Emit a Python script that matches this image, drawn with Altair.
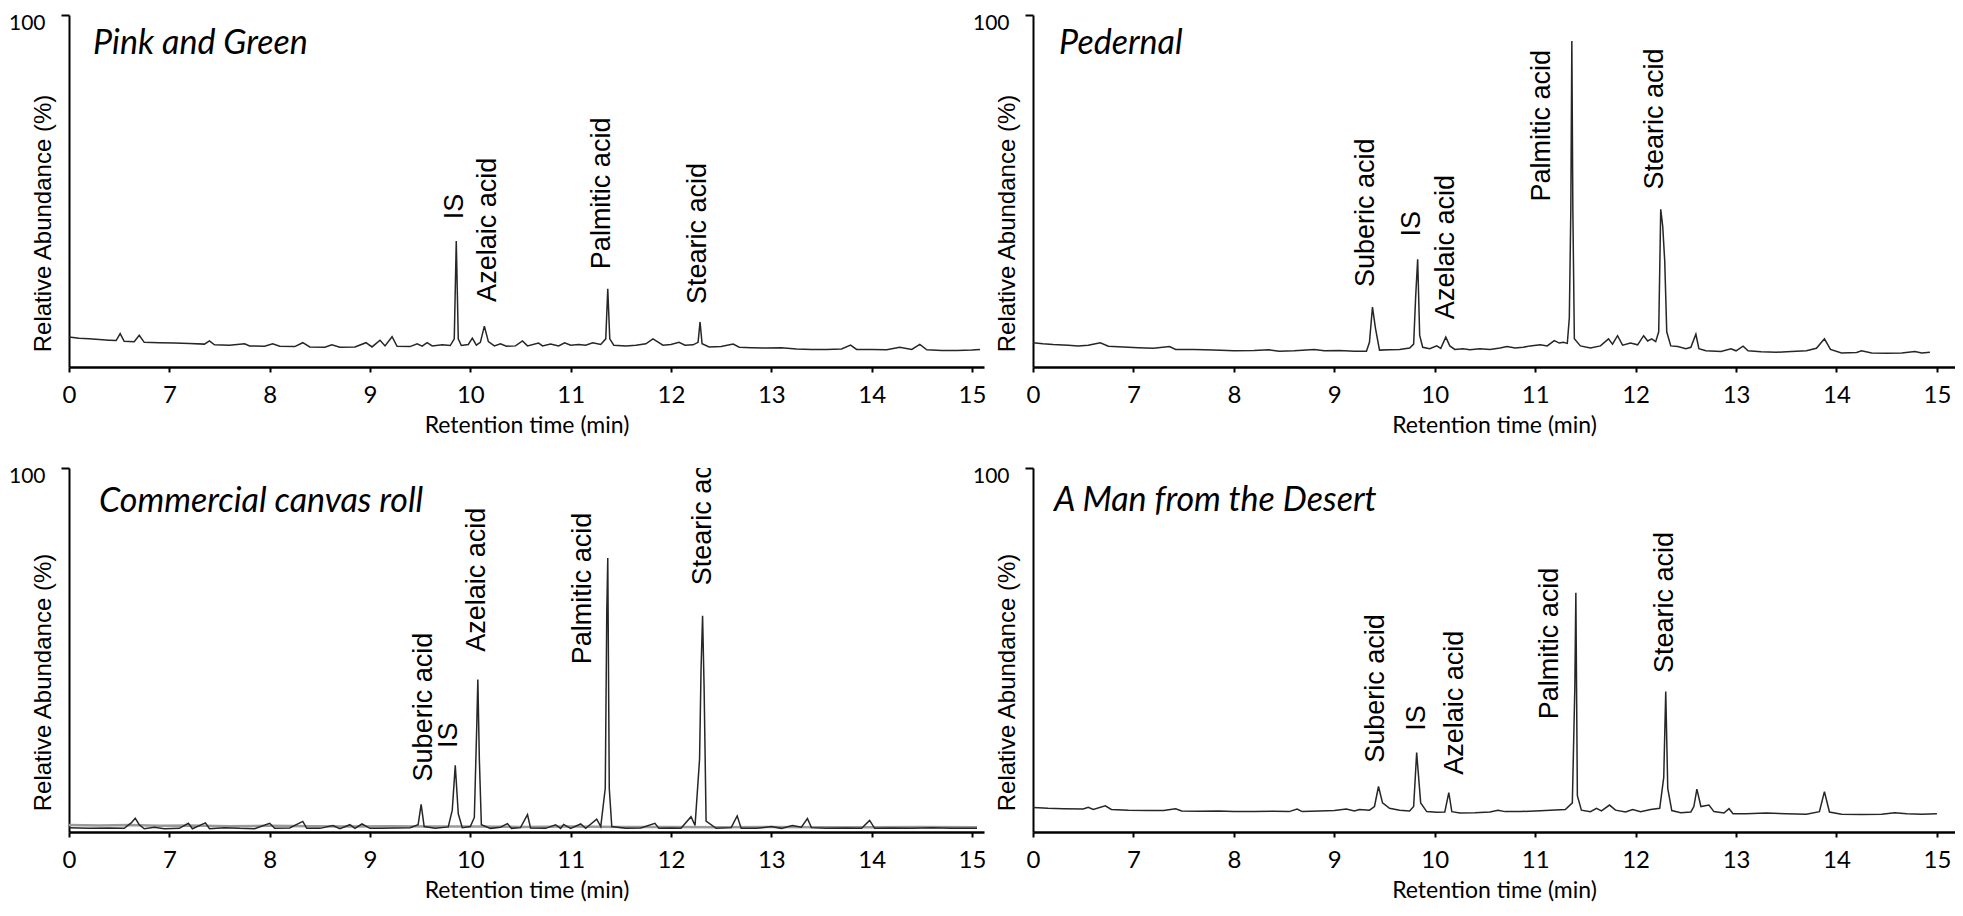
import altair as alt
import pandas as pd

# ---------------- Pink and Green (top-left) ----------------
tl_time = [6.00,6.10,6.20,6.30,6.40,6.47,6.51,6.55,6.65,6.70,6.75,6.90,7.05,7.20,7.35,7.40,7.45,7.60,7.75,7.80,
           7.95,8.03,8.10,8.25,8.33,8.40,8.55,8.62,8.70,8.85,8.96,9.02,9.10,9.15,9.22,9.27,9.40,9.47,9.52,9.57,
           9.62,9.72,9.80,9.84,9.86,9.88,9.91,9.98,10.02,10.06,10.10,10.14,10.18,10.24,10.30,10.36,10.45,10.52,10.57,10.68,
           10.72,10.80,10.88,10.94,11.00,11.08,11.15,11.22,11.30,11.35,11.37,11.39,11.43,11.55,11.65,11.75,11.82,11.86,11.92,12.00,
           12.08,12.14,12.22,12.27,12.29,12.31,12.38,12.50,12.62,12.68,12.80,12.95,13.10,13.25,13.40,13.55,13.70,13.79,13.85,14.00,
           14.15,14.28,14.40,14.48,14.55,14.70,14.85,15.00,15.08]
tl_abund = [8.5,8.2,8.0,7.8,7.6,7.5,9.5,7.3,7.2,9.0,7.0,6.9,6.8,6.7,6.5,7.4,6.3,6.2,6.6,6.0,
            5.9,6.6,5.9,5.8,6.9,5.7,5.6,6.3,5.6,5.7,6.9,5.7,7.6,6.0,8.6,5.9,5.8,6.6,5.9,6.9,
            6.0,6.3,6.1,8.0,35.8,8.0,6.1,6.4,8.2,6.2,7.0,11.6,7.2,6.0,6.6,5.9,6.0,7.4,6.0,6.8,
            6.0,6.5,6.0,6.9,6.2,6.4,6.2,6.9,6.4,8.0,22.2,8.0,6.2,6.0,6.2,6.6,8.0,7.3,6.2,6.4,
            7.0,6.2,6.3,7.0,12.8,6.6,5.7,5.8,6.5,5.6,5.5,5.4,5.5,5.1,5.0,5.0,5.1,6.2,5.0,5.0,
            4.9,5.6,5.0,6.4,4.9,4.7,4.7,4.8,5.0]
tl_labels = ["IS", "Azelaic acid", "Palmitic acid", "Stearic acid"]
tl_label_time = [9.85, 10.18, 11.31, 12.27]
tl_label_abund = [42.0, 18.5, 27.8, 17.9]

# ---------------- Pedernal (top-right) ----------------
tr_time = [6.00,6.10,6.20,6.35,6.45,6.55,6.67,6.75,6.90,7.05,7.20,7.36,7.42,7.60,7.80,8.00,8.20,8.35,8.45,8.60,
           8.80,8.90,9.05,9.20,9.32,9.35,9.38,9.41,9.45,9.55,9.65,9.75,9.79,9.81,9.83,9.85,9.88,9.95,10.02,10.06,
           10.11,10.15,10.20,10.28,10.35,10.45,10.55,10.65,10.72,10.80,10.88,10.95,11.05,11.12,11.19,11.24,11.28,11.32,11.34,11.355,
           11.365,11.375,11.39,11.45,11.55,11.65,11.73,11.77,11.82,11.87,11.95,12.02,12.08,12.12,12.16,12.20,12.23,12.25,12.27,12.29,
           12.31,12.35,12.42,12.50,12.55,12.60,12.63,12.70,12.85,12.95,13.00,13.07,13.12,13.25,13.40,13.55,13.70,13.80,13.88,13.94,
           14.05,14.20,14.25,14.35,14.50,14.65,14.78,14.85,14.93]
tr_abund = [6.9,6.6,6.4,6.2,6.0,6.2,6.9,5.9,5.7,5.5,5.3,5.8,5.0,5.0,4.8,4.6,4.7,4.9,4.5,4.6,
            5.0,4.6,4.7,4.5,4.5,7.0,17.0,11.0,4.8,4.9,5.0,5.4,6.5,20.0,30.6,9.0,5.6,5.2,6.0,5.3,
            8.5,6.0,5.0,5.2,4.9,5.2,5.0,5.4,5.8,5.4,5.6,6.0,6.3,6.0,7.5,6.8,7.0,6.7,14.0,45.0,
            92.6,45.0,8.0,6.0,5.4,6.0,8.0,6.5,8.9,6.2,6.8,6.3,8.9,7.4,8.0,7.2,10.0,44.8,40.0,30.0,
            10.0,6.0,5.8,5.2,5.6,9.3,5.2,4.6,4.4,5.2,4.6,5.9,4.6,4.3,4.2,4.4,4.6,5.3,8.0,5.0,
            4.0,4.1,4.6,4.0,3.9,4.0,4.4,4.0,4.2]
tr_labels = ["Suberic acid", "IS", "Azelaic acid", "Palmitic acid", "Stearic acid"]
tr_label_time = [9.32, 9.77, 10.11, 11.07, 12.19]
tr_label_abund = [22.7, 37.1, 13.6, 47.0, 50.4]

# ---------------- Commercial canvas roll (bottom-left) ----------------
bl_time = [6.00,6.20,6.40,6.55,6.62,6.66,6.70,6.75,6.85,6.95,7.10,7.19,7.23,7.36,7.40,7.55,7.70,7.85,8.00,8.05,
           8.20,8.33,8.37,8.50,8.63,8.70,8.80,8.85,8.92,9.00,9.10,9.25,9.40,9.48,9.51,9.54,9.65,9.78,9.82,9.85,
           9.88,9.92,10.00,10.04,10.065,10.075,10.09,10.11,10.20,10.30,10.37,10.41,10.50,10.57,10.60,10.75,10.85,10.90,10.93,11.00,
           11.10,11.15,11.26,11.30,11.345,11.36,11.37,11.385,11.41,11.55,11.70,11.84,11.88,12.00,12.10,12.20,12.24,12.285,12.30,12.315,
           12.33,12.35,12.45,12.60,12.66,12.70,12.85,13.00,13.10,13.21,13.30,13.36,13.40,13.55,13.75,13.90,13.98,14.03,14.20,14.40,
           14.60,14.80,15.05]
bl_abund = [1.2,1.0,1.1,1.0,2.5,3.8,2.0,0.9,1.3,0.9,1.0,2.4,0.9,2.5,0.9,1.2,1.0,0.9,2.4,1.0,
            1.1,2.9,1.0,1.0,1.8,0.9,2.0,1.0,2.2,1.0,1.0,1.1,1.2,2.0,7.6,1.5,1.0,1.4,6.0,18.3,
            5.0,1.2,1.5,4.0,30.0,41.9,20.0,2.0,1.0,1.3,2.3,1.0,1.2,4.8,1.1,1.0,2.0,1.0,2.1,1.0,
            2.2,1.0,3.5,1.5,12.0,60.0,75.3,12.0,1.5,1.0,1.1,2.4,1.0,1.1,1.0,4.2,1.8,20.0,45.0,59.4,
            40.0,3.0,1.0,1.2,4.4,1.0,1.0,1.5,1.0,1.8,1.3,3.7,1.2,1.0,1.1,1.0,3.2,1.0,1.1,1.0,
            1.2,1.0,1.0]
# faint grey second trace lying on the baseline
bl_grey_time = [6.00, 6.30, 6.60, 6.90, 7.20, 7.60, 8.00, 8.40, 8.80, 9.20, 9.60, 10.00, 10.50, 11.00,
                11.50, 12.00, 12.50, 13.00, 13.50, 14.00, 14.50, 15.05]
bl_grey_abund = [1.9, 1.8, 1.9, 1.7, 1.8, 1.6, 1.7, 1.6, 1.5, 1.6, 1.5, 1.5, 1.4, 1.5,
                 1.4, 1.4, 1.3, 1.4, 1.3, 1.3, 1.4, 1.3]
bl_labels = ["Suberic acid", "IS", "Azelaic acid", "Palmitic acid", "Stearic acid"]
bl_label_time = [9.54, 9.79, 10.07, 11.12, 12.32]
bl_label_abund = [13.9, 23.1, 49.5, 46.1, 67.8]

# ---------------- A Man from the Desert (bottom-right) ----------------
br_time = [6.00,6.15,6.30,6.50,6.55,6.60,6.72,6.78,6.95,7.15,7.30,7.42,7.48,7.65,7.85,8.00,8.20,8.40,8.55,8.63,
           8.68,8.85,9.00,9.12,9.20,9.25,9.35,9.40,9.44,9.48,9.55,9.65,9.75,9.79,9.82,9.86,9.92,10.02,10.10,10.14,
           10.17,10.25,10.40,10.55,10.63,10.70,10.85,11.00,11.15,11.30,11.37,11.395,11.405,11.42,11.46,11.55,11.61,11.66,11.74,11.80,
           11.90,11.97,12.05,12.15,12.24,12.28,12.30,12.32,12.36,12.45,12.55,12.58,12.61,12.65,12.73,12.78,12.88,12.93,12.97,13.10,
           13.30,13.50,13.70,13.83,13.88,13.93,14.05,14.25,14.45,14.58,14.70,14.85,15.00]
br_abund = [6.7,6.5,6.4,6.3,6.8,6.2,7.2,6.2,6.0,5.9,5.9,6.4,5.8,5.7,5.8,5.6,5.6,5.7,5.6,6.3,
            5.6,5.8,5.9,6.3,5.8,6.2,6.0,7.0,12.5,8.0,6.5,6.0,5.8,7.0,21.8,8.0,5.6,5.4,5.5,10.8,
            5.6,5.2,5.3,5.5,6.0,5.6,5.6,5.8,6.0,6.2,8.0,40.0,65.7,10.0,6.0,5.6,6.5,5.8,7.4,6.0,
            5.5,6.2,5.6,6.2,6.5,15.0,38.6,12.0,5.9,5.3,5.5,7.0,11.8,7.0,7.4,5.6,5.2,6.4,5.0,5.0,
            5.2,5.0,4.9,5.6,11.1,5.5,4.9,4.8,4.9,5.3,5.0,4.9,5.0]
br_labels = ["Suberic acid", "IS", "Azelaic acid", "Palmitic acid", "Stearic acid"]
br_label_time = [9.42, 9.82, 10.20, 11.15, 12.29]
br_label_abund = [19.0, 27.8, 15.7, 31.0, 43.7]

# ---------------- sample names ----------------
sample_names = ["Pink and Green", "Pedernal", "Commercial canvas roll", "A Man from the Desert"]
sample_name_time = [6.24, 6.26, 6.30, 6.21]
sample_name_abund = [91.8, 91.8, 90.7, 91.0]

x_ticks = [6, 7, 8, 9, 10, 11, 12, 13, 14, 15]


def make_panel(times, abund, labels, lab_t, lab_v, idx, width, height, xmax, title_y,
               clip_labels=False, grey=None):
    df = pd.DataFrame({"t": times, "v": abund})
    ldf = pd.DataFrame({"t": lab_t, "v": lab_v, "name": labels})
    ndf = pd.DataFrame({"t": [sample_name_time[idx]], "v": [sample_name_abund[idx]],
                        "name": [sample_names[idx]]})
    xs = alt.Scale(domain=[6, xmax], nice=False, zero=False)
    ys = alt.Scale(domain=[0, 100], nice=False, zero=False)
    xaxis = alt.Axis(values=x_ticks, format="d",
                     labelExpr="datum.value == 6 ? '0' : format(datum.value, 'd')",
                     title="Retention time (min)", grid=False,
                     labelFont="Lato", labelFontSize=24, labelColor="black", labelPadding=11,
                     labelFlush=False, labelOverlap=False,
                     titleFont="Lato", titleFontSize=23, titleFontWeight="normal", titleColor="black",
                     titlePadding=7,
                     domainColor="black", domainWidth=2.5, tickColor="black", tickWidth=2, tickSize=5)
    yaxis = alt.Axis(values=[100], title="Relative Abundance (%)", grid=False,
                     labelFont="Lato", labelFontSize=21, labelColor="black", labelPadding=16,
                     labelBaseline="top", labelOffset=-3, labelFlush=False,
                     titleFont="Liberation Sans", titleFontSize=24, titleFontWeight="normal",
                     titleColor="black", titleAngle=270, titleAlign="center", titleBaseline="middle",
                     titleX=-26, titleY=title_y,
                     domainColor="black", domainWidth=2, tickColor="black", tickWidth=2, tickSize=8)
    layers = []
    if grey is not None:
        gdf = pd.DataFrame({"t": grey[0], "v": grey[1]})
        layers.append(alt.Chart(gdf).mark_line(color="#9a9a9a", strokeWidth=2.5).encode(
            x=alt.X("t:Q", scale=xs, axis=xaxis), y=alt.Y("v:Q", scale=ys, axis=yaxis)))
    line = alt.Chart(df).mark_line(color="#262626", strokeWidth=1.5).encode(
        x=alt.X("t:Q", scale=xs, axis=xaxis),
        y=alt.Y("v:Q", scale=ys, axis=yaxis),
    )
    layers.append(line)
    lab = alt.Chart(ldf).mark_text(angle=270, align="left", baseline="middle",
                                   font="Liberation Sans", fontSize=27, color="black",
                                   clip=clip_labels).encode(
        x=alt.X("t:Q", scale=xs), y=alt.Y("v:Q", scale=ys), text="name:N")
    name = alt.Chart(ndf).mark_text(align="left", baseline="middle", font="Lato",
                                    fontStyle="italic", fontSize=34, color="black").encode(
        x=alt.X("t:Q", scale=xs), y=alt.Y("v:Q", scale=ys), text="name:N")
    layers += [lab, name]
    return alt.layer(*layers).properties(width=width, height=height)


tl = make_panel(tl_time, tl_abund, tl_labels, tl_label_time, tl_label_abund, 0, 915, 352, 15.12, 208)
tr = make_panel(tr_time, tr_abund, tr_labels, tr_label_time, tr_label_abund, 1, 922, 352, 15.18, 208)
bl = make_panel(bl_time, bl_abund, bl_labels, bl_label_time, bl_label_abund, 2, 915, 364, 15.12, 214,
                clip_labels=True, grey=(bl_grey_time, bl_grey_abund))
br = make_panel(br_time, br_abund, br_labels, br_label_time, br_label_abund, 3, 922, 364, 15.18, 214)

chart = alt.concat(tl, tr, bl, br, columns=2, spacing={"row": 101, "column": 49},
                   bounds="flush").properties(
    padding={"left": 0, "top": 4, "right": 0, "bottom": 0}, background="white"
).configure_view(stroke=None)

chart.save("out.html", embed_options={"renderer": "svg", "actions": False})
